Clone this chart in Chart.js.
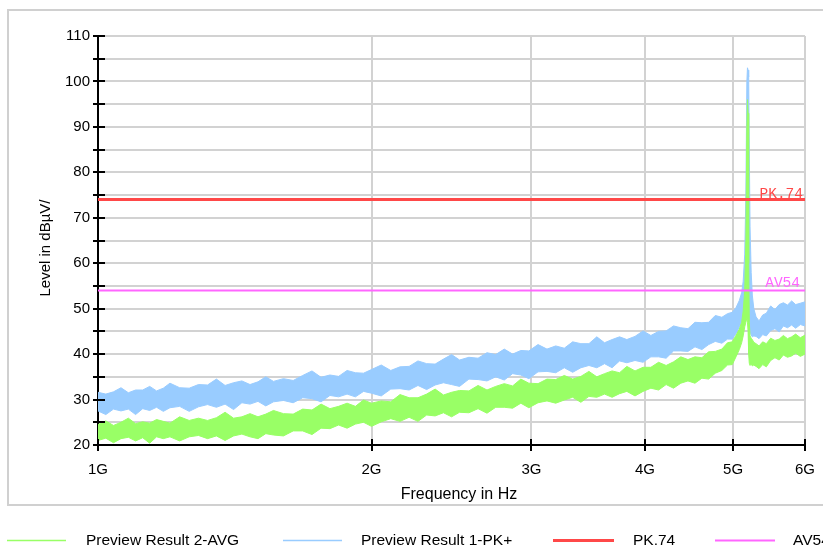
<!DOCTYPE html>
<html><head><meta charset="utf-8">
<script src="https://cdn.jsdelivr.net/npm/chart.js@4.4.0/dist/chart.umd.min.js"></script>
<style>html,body{margin:0;padding:0;background:#fff;}canvas{display:block;}</style>
</head><body>
<canvas id="c" width="823" height="549"></canvas>
<script>
const freqGHz = [1.00,1.02,1.04,1.06,1.08,1.10,1.12,1.14,1.16,1.18,
1.20,1.23,1.26,1.29,1.32,1.35,1.38,1.41,1.44,1.47,
1.50,1.53,1.56,1.60,1.64,1.68,1.72,1.76,1.80,1.84,
1.88,1.92,1.96,2.00,2.05,2.10,2.15,2.20,2.25,2.30,
2.35,2.40,2.45,2.50,2.56,2.62,2.68,2.74,2.80,2.86,
2.92,2.98,3.05,3.12,3.19,3.26,3.33,3.40,3.47,3.54,
3.61,3.68,3.75,3.82,3.90,3.98,4.06,4.14,4.22,4.30,
4.38,4.46,4.54,4.62,4.70,4.78,4.86,4.93,4.99,5.04,
5.08,5.11,5.13,5.15,5.165,5.178,5.186,5.194,5.202,5.21,
5.22,5.235,5.25,5.27,5.30,5.34,5.39,5.44,5.50,5.56,
5.62,5.68,5.74,5.80,5.86,5.93,6.00];

const pkUpper = [31.6,31.2,31.7,32.6,31.5,32.1,32.1,32.9,31.9,32.5,
33.6,32.6,32.5,33.3,33.2,34.5,33.1,33.7,34.1,33.3,
33.9,35.0,34.0,34.6,34.2,35.3,36.3,34.9,35.4,35.1,
36.4,35.9,35.8,36.6,37.6,36.4,37.2,37.3,38.5,37.9,
37.8,38.9,39.9,38.7,39.3,39.1,40.3,39.9,41.1,40.0,
40.8,40.7,42.1,41.1,41.8,41.3,42.7,42.3,42.3,43.8,
42.5,43.2,43.8,43.2,43.9,45.1,44.1,45.0,45.1,46.2,
45.8,45.6,47.0,46.9,47.0,48.5,48.1,48.9,49.2,50.3,
51.8,53.5,56.0,62.0,75.0,100.0,103.0,102.5,101.0,85.0,
68.0,58.0,53.0,50.0,48.2,47.3,48.6,49.0,50.6,49.8,
50.9,51.3,50.8,51.7,50.9,51.2,51.5];

const pkLower = [27.5,26.7,27.9,27.5,27.9,26.7,28.0,27.6,28.3,27.4,
28.2,28.5,27.4,28.4,28.9,28.3,29.0,27.8,29.3,29.0,
29.6,28.6,29.5,29.8,29.3,30.4,30.2,29.5,30.9,30.6,
31.2,30.6,31.8,31.4,30.8,32.3,32.4,32.1,33.1,32.2,
33.2,33.7,33.3,32.9,34.5,34.4,34.1,35.0,34.3,35.7,
35.4,34.6,36.1,36.2,35.9,37.0,36.0,37.0,37.5,37.0,
37.9,37.0,38.5,38.1,38.6,38.2,39.4,39.4,39.1,40.7,
40.7,40.6,41.6,41.0,42.1,42.8,42.4,43.3,43.3,44.6,
46.0,47.2,48.5,50.0,51.0,51.0,50.0,49.0,47.0,46.0,
45.0,44.2,43.8,44.0,43.9,43.4,44.3,44.0,45.2,45.6,
44.9,46.2,45.8,46.4,45.7,46.5,46.2];

const avgUpper = [24.5,25.3,24.3,25.0,25.9,24.7,25.1,24.8,25.6,25.2,
24.8,26.2,25.4,25.9,25.4,26.0,27.2,25.9,26.2,26.9,
26.2,26.8,27.6,26.9,26.8,27.9,27.7,29.0,28.0,28.5,
29.2,28.5,29.9,29.2,29.7,29.5,31.1,30.4,30.4,31.2,
32.3,31.0,31.6,32.0,31.9,33.1,32.1,32.9,33.5,33.0,
34.5,33.6,33.5,34.5,34.4,35.3,34.5,35.1,36.2,35.0,
35.7,36.3,35.9,37.3,36.3,37.1,37.1,38.2,37.5,38.3,
39.4,38.8,39.4,39.2,40.5,40.6,41.1,42.5,42.7,44.2,
45.5,47.0,49.5,54.0,65.0,90.0,96.0,93.0,60.0,47.0,
44.0,43.5,43.2,42.6,42.3,41.8,42.7,42.3,43.5,43.0,
43.3,44.1,43.4,43.8,44.4,43.6,44.2];

const avgLower = [21.0,21.5,20.5,21.4,21.7,20.9,21.6,20.4,21.8,21.4,
21.8,20.9,21.8,22.1,21.4,22.0,21.0,22.0,22.4,21.8,
21.4,22.5,22.2,22.0,23.1,23.1,22.3,23.7,23.6,24.4,
23.7,24.6,25.0,24.1,25.1,25.8,25.2,26.1,25.2,26.6,
26.4,27.1,26.2,27.2,27.1,28.0,27.0,28.3,28.3,28.1,
29.2,28.2,29.3,29.7,29.2,29.9,30.5,29.4,30.7,30.5,
31.2,30.5,31.3,31.8,30.8,31.8,32.5,32.1,33.3,32.5,
33.6,34.1,33.6,34.7,34.5,35.8,36.4,37.6,37.7,39.5,
41.0,42.5,44.0,46.0,47.0,48.0,47.0,45.0,40.0,38.0,
37.5,37.8,37.4,37.6,37.3,36.8,37.7,37.2,38.6,39.2,
38.7,39.8,39.3,39.6,40.2,39.5,40.0];

const limitPK = 74;
const limitAV = 54;
const limitLabels = ['PK.74', 'AV54'];
const xTicks = [1, 2, 3, 4, 5, 6];
const xTickLabels = ['1G', '2G', '3G', '4G', '5G', '6G'];
const yMin = 20, yMax = 110, yStep = 5;
const seriesNames = ['Preview Result 2-AVG', 'Preview Result 1-PK+', 'PK.74', 'AV54'];
const xTitle = 'Frequency in Hz';
const yTitle = 'Level in dB\u00B5V/';

const GREEN = '#99ff66', BLUE = '#99ccff', RED = '#ff4848', MAG = '#ff66ff';
const toXY = arr => arr.map((v, i) => ({x: freqGHz[i], y: v}));
const SANS = '"Liberation Sans", Arial, sans-serif';

const decor = {
  id: 'decor',
  beforeDraw(chart) {
    const ctx = chart.ctx;
    ctx.save();
    ctx.fillStyle = '#fff';
    ctx.fillRect(0, 0, chart.width, chart.height);
    ctx.strokeStyle = '#d0d0d0';
    ctx.lineWidth = 2;
    ctx.strokeRect(8, 10, 840, 495);
    ctx.restore();
  },
  afterDraw(chart) {
    const ctx = chart.ctx, xs = chart.scales.x, ys = chart.scales.y;
    ctx.save();
    ctx.strokeStyle = '#000';
    ctx.lineWidth = 2;
    ys.ticks.forEach(t => {
      const y = Math.round(ys.getPixelForValue(t.value));
      ctx.beginPath(); ctx.moveTo(xs.left - 5, y); ctx.lineTo(xs.left + 7, y); ctx.stroke();
    });
    xs.ticks.forEach(t => {
      const x = Math.round(xs.getPixelForValue(t.value));
      ctx.beginPath(); ctx.moveTo(x, ys.bottom - 6); ctx.lineTo(x, ys.bottom + 6); ctx.stroke();
    });
    ctx.font = '14.5px "Liberation Mono", monospace';
    ctx.textAlign = 'right';
    ctx.textBaseline = 'alphabetic';
    ctx.fillStyle = RED;
    ctx.fillText(limitLabels[0], 803, ys.getPixelForValue(limitPK) - 2);
    ctx.fillStyle = MAG;
    ctx.fillText(limitLabels[1], 800, ys.getPixelForValue(limitAV) - 3);
    ctx.fillStyle = '#000';
    ctx.textAlign = 'center';
    ctx.textBaseline = 'middle';
    ctx.font = '16px ' + SANS;
    ctx.fillText(xTitle, 459, 495);
    ctx.save();
    ctx.translate(46, 248);
    ctx.rotate(-Math.PI / 2);
    ctx.font = '15px ' + SANS;
    ctx.fillText(yTitle, 0, 0);
    ctx.restore();
    const items = [
      {c: GREEN, w: 1.5, x1: 7, x2: 66, tx: 86},
      {c: BLUE, w: 1.5, x1: 283, x2: 342, tx: 361},
      {c: RED, w: 3, x1: 553, x2: 614, tx: 633},
      {c: MAG, w: 2, x1: 715, x2: 775, tx: 793}
    ];
    ctx.font = '15.5px ' + SANS;
    ctx.textAlign = 'left';
    items.forEach((it, i) => {
      ctx.strokeStyle = it.c; ctx.lineWidth = it.w;
      ctx.beginPath(); ctx.moveTo(it.x1, 540.5); ctx.lineTo(it.x2, 540.5); ctx.stroke();
      ctx.fillStyle = '#000';
      ctx.fillText(seriesNames[i], it.tx, 541);
    });
    ctx.restore();
  }
};

const common = {pointRadius: 0, tension: 0, borderWidth: 1};
new Chart(document.getElementById('c'), {
  type: 'line',
  data: {
    datasets: [
      {label: seriesNames[2], data: [{x: xTicks[0], y: limitPK}, {x: xTicks[xTicks.length - 1], y: limitPK}], borderColor: RED, borderWidth: 3, pointRadius: 0, fill: false},
      {label: seriesNames[3], data: [{x: xTicks[0], y: limitAV}, {x: xTicks[xTicks.length - 1], y: limitAV}], borderColor: MAG, borderWidth: 2, pointRadius: 0, fill: false},
      Object.assign({label: seriesNames[0], data: toXY(avgUpper), borderColor: GREEN, backgroundColor: GREEN, fill: '+1'}, common),
      Object.assign({label: seriesNames[0] + ' low', data: toXY(avgLower), borderColor: GREEN, fill: false}, common),
      Object.assign({label: seriesNames[1], data: toXY(pkUpper), borderColor: BLUE, backgroundColor: BLUE, fill: '+1'}, common),
      Object.assign({label: seriesNames[1] + ' low', data: toXY(pkLower), borderColor: BLUE, fill: false}, common)
    ]
  },
  options: {
    responsive: false,
    animation: false,
    devicePixelRatio: 1,
    layout: {padding: {left: 0, right: 18, top: 36, bottom: 0}},
    plugins: {legend: {display: false}, tooltip: {enabled: false}, title: {display: false}},
    scales: {
      x: {
        type: 'logarithmic', min: 1, max: 6,
        afterBuildTicks: s => { s.ticks = xTicks.map(v => ({value: v})); },
        afterFit: s => { s.height = 104; s.paddingRight = 0; s.paddingLeft = 0; },
        ticks: {callback: v => xTickLabels[xTicks.indexOf(v)], font: {family: SANS, size: 15}, color: '#000', padding: 16, maxRotation: 0, autoSkip: false},
        grid: {color: '#d2d2d2', lineWidth: 2, drawTicks: false},
        border: {display: true, color: '#000', width: 2}
      },
      y: {
        type: 'linear', min: yMin, max: yMax,
        afterFit: s => { s.width = 98; },
        ticks: {stepSize: yStep, autoSkip: false, callback: v => (v % 10 === 0 ? String(v) : ''), font: {family: SANS, size: 15}, color: '#000', padding: 8},
        grid: {color: '#d2d2d2', lineWidth: 2, drawTicks: false},
        border: {display: true, color: '#000', width: 2}
      }
    }
  },
  plugins: [decor]
});
</script>
</body></html>
